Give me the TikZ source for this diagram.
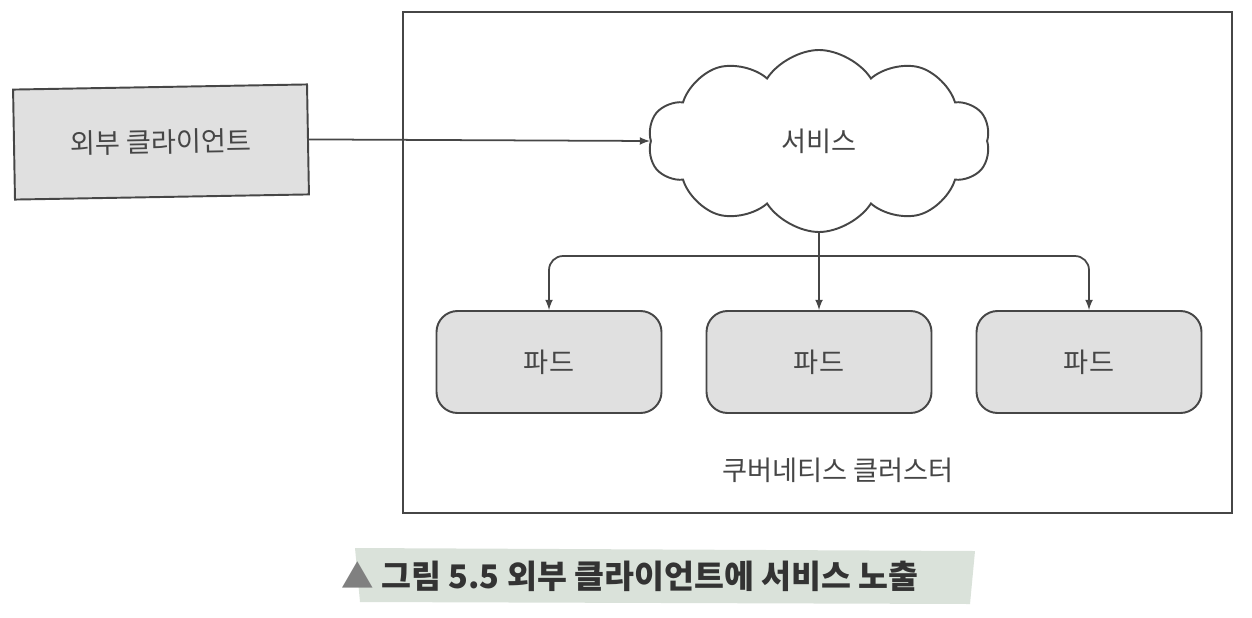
\documentclass[tikz,border=0pt]{standalone}
\usepackage{fontspec}
\setmainfont{Noto Sans CJK KR}
\usepackage{xcolor}
\usepackage{tikz}
\usetikzlibrary{shapes.symbols, positioning}

\definecolor{inkgray}{RGB}{70,70,70}
\definecolor{boxgray}{RGB}{224,224,224}
\definecolor{stripe}{RGB}{218,226,218}

\tikzset{
    box/.style={draw=inkgray, line width=1.1pt, fill=boxgray, text=inkgray,
        minimum width=5.88cm, minimum height=2.2cm, font=\fontsize{15.5}{18}\selectfont},
    pod/.style={draw=inkgray, line width=1.1pt, fill=boxgray, rounded corners=12pt,
        text=inkgray, minimum width=4.5cm, minimum height=2.04cm,
        font=\fontsize{15.5}{18}\selectfont},
    conn/.style={draw=inkgray, line width=1pt}
}

\begin{document}
\begin{tikzpicture}[>=latex]
    \useasboundingbox (0,0) rectangle (25.04,12.34);

    % Bang cum
    \draw[inkgray, line width=1.1pt] (8.06,2.08) rectangle (24.64,12.1);
    \node[text=inkgray, font=\fontsize{15.5}{18}\selectfont] (cluster) at (16.76,2.94) {쿠버네티스 클러스터};

    % Khach hang ben ngoai
    \node[box, rotate=1] (client) at (3.22,9.5) {외부 클라이언트};

    % Dich vu
    \node[cloud, cloud puffs=10, cloud puff arc=115, cloud ignores aspect,
        draw=inkgray, line width=1.1pt, fill=white, text=inkgray,
        minimum width=6.84cm, minimum height=3.64cm,
        font=\fontsize{15.5}{18}\selectfont] (service) at (16.38,9.52) {서비스};

    % Cac pod
    \node[pod] (podA) at (10.98,5.1) {파드};
    \node[pod] (podB) at (16.38,5.1) {파드};
    \node[pod] (podC) at (21.78,5.1) {파드};

    % Mui ten
    \draw[conn, ->] (client.east) -- (service.west);
    \coordinate (split) at (service.south |- 0,7.22);
    \draw[conn, ->] (service.south) -- (podB.north);
    \draw[conn, ->, rounded corners=8pt] (split) -| (podA.north);
    \draw[conn, ->, rounded corners=8pt] (split) -| (podC.north);

    % Chu thich
    \fill[stripe] (7.1,1.38) -- (19.5,1.32) -- (19.4,0.26) -- (7.2,0.3) -- cycle;
    \node[font=\bfseries\fontsize{18.5}{22}\selectfont, text=black!80] (caption) at (12.6,0.82)
        {\textcolor{gray}{▲} 그림 5.5 외부 클라이언트에 서비스 노출};
\end{tikzpicture}
\end{document}
